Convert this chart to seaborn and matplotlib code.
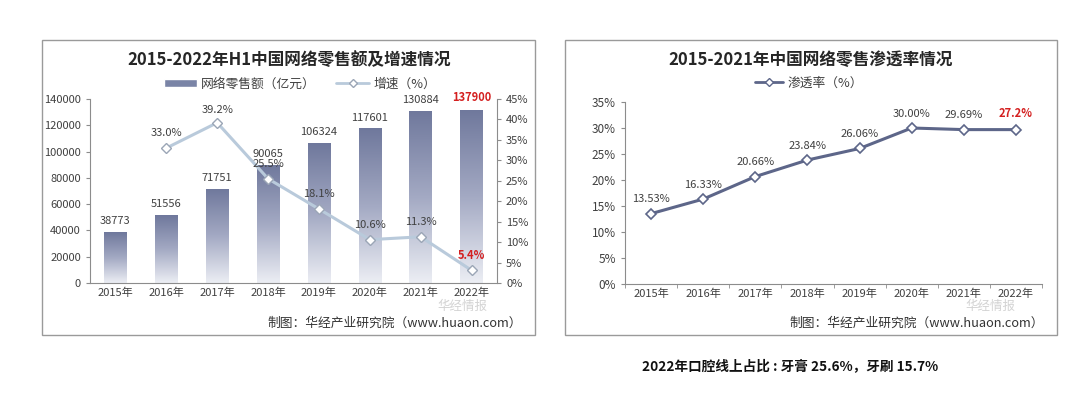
import numpy as np
import pandas as pd
import matplotlib
matplotlib.use('Agg')
import matplotlib.pyplot as plt
from matplotlib.patches import Rectangle
from matplotlib.lines import Line2D
from matplotlib.colors import LinearSegmentedColormap
import seaborn as sns

# data
years = ['2015年', '2016年', '2017年', '2018年', '2019年', '2020年', '2021年', '2022年']
sales_height = [38773, 51556, 71751, 90065, 106324, 117601, 130884, 132000]
sales_label = ['38773', '51556', '71751', '90065', '106324', '117601', '130884', '137900']
growth_years = ['2016年', '2017年', '2018年', '2019年', '2020年', '2021年', '2022年']
growth_plot = [33.0, 39.2, 25.5, 18.1, 10.6, 11.3, 3.1]
growth_label = ['33.0%', '39.2%', '25.5%', '18.1%', '10.6%', '11.3%', '5.4%']
pen_plot = [13.53, 16.33, 20.66, 23.84, 26.06, 30.00, 29.69, 29.69]
pen_label = ['13.53%', '16.33%', '20.66%', '23.84%', '26.06%', '30.00%', '29.69%', '27.2%']

sns.set_style('white')
plt.rcParams['font.family'] = ['Noto Sans CJK SC', 'DejaVu Sans']
plt.rcParams['axes.unicode_minus'] = False

W, H = 1080, 397
fig = plt.figure(figsize=(10.8, 3.97), dpi=100)

def fx(px):
    return px / W

def fy(py):
    return 1 - py / H

# panel frames
for x0, x1 in [(42, 535), (565, 1057)]:
    fig.patches.append(Rectangle((fx(x0), fy(335)), fx(x1 - x0), (335 - 40) / H,
                                 transform=fig.transFigure, fill=False,
                                 edgecolor='#9a9a9a', lw=1.0))

txt_col = '#404040'
grid_col = '#8c8c8c'

# ---------------- left chart ----------------
ax1 = fig.add_axes([fx(90), fy(283), fx(497 - 90), (283 - 99) / H])
df1 = pd.DataFrame({'year': years, 'sales': sales_height})
sns.barplot(data=df1, x='year', y='sales', ax=ax1, color='#6f789c', width=0.44)
ax1.set_ylim(0, 140000)
ax1.set_xlim(-0.5, 7.5)
ax1.set_yticks(np.arange(0, 140001, 20000))
ax1.set_xlabel('')
ax1.set_ylabel('')

cmap = LinearSegmentedColormap.from_list('g', ['#eceef4', '#a3a9c3', '#6f789c'])
grad = np.linspace(0, 1, 256).reshape(-1, 1)
for p in ax1.patches:
    x, y = p.get_x(), p.get_y()
    w, h = p.get_width(), p.get_height()
    im = ax1.imshow(grad, cmap=cmap, origin='lower', aspect='auto',
                    extent=[x, x + w, y, y + h], zorder=2)
    im.set_clip_path(p)
    p.set_facecolor('none')
    p.set_edgecolor('none')
ax1.set_xlim(-0.5, 7.5)
ax1.set_ylim(0, 140000)

for i, (v, lab) in enumerate(zip(sales_height, sales_label)):
    last = i == len(sales_label) - 1
    ax1.text(i, v + 4500, lab, ha='center', va='bottom', fontsize=8,
             color='#d42020' if last else txt_col,
             fontweight='bold' if last else 'normal', zorder=5)

for s in ['top', 'right']:
    ax1.spines[s].set_visible(False)
ax1.spines['left'].set_color(grid_col)
ax1.spines['bottom'].set_color(grid_col)
ax1.tick_params(axis='both', labelsize=8, colors=txt_col, length=3,
                direction='out', left=True, bottom=True, color=grid_col)
ax1.set_xticks(np.arange(-0.5, 8, 1), minor=True)
ax1.tick_params(axis='x', which='major', length=0)
ax1.tick_params(axis='x', which='minor', length=3, color=grid_col)

ax2 = ax1.twinx()
gx = [years.index(y) for y in growth_years]
sns.lineplot(x=gx, y=growth_plot, ax=ax2, color='#b9cadb', lw=2.2,
             marker='D', markersize=5, markerfacecolor='white',
             markeredgecolor='#9ba6b6', markeredgewidth=1, zorder=4)
ax2.set_ylim(0, 45)
ax2.set_xlim(-0.5, 7.5)
ax2.set_yticks(np.arange(0, 46, 5))
ax2.set_yticklabels([f'{t}%' for t in range(0, 46, 5)])
for s in ['top', 'left', 'bottom']:
    ax2.spines[s].set_visible(False)
ax2.spines['right'].set_color(grid_col)
ax2.tick_params(axis='y', labelsize=8, colors=txt_col, length=3, right=True,
                direction='out', color=grid_col)
for x, v, lab in zip(gx, growth_plot, growth_label):
    last = lab == growth_label[-1]
    off = 2.4 if x != 2 else 2.0
    yy = v + off if not last else 5.2
    ax2.text(x, yy, lab, ha='center', va='bottom', fontsize=8,
             color='#d42020' if last else txt_col,
             fontweight='bold' if last else 'normal', zorder=6)

fig.text(fx(289), fy(60), '2015-2022年H1中国网络零售额及增速情况', ha='center',
         va='center', fontsize=12, fontweight='bold', color='#262626')
h1 = [Rectangle((0, 0), 1, 1, facecolor='#7a84a6'),
      Line2D([], [], color='#b9cadb', lw=2, marker='D', markersize=4,
             markerfacecolor='white', markeredgecolor='#9ba6b6')]
fig.legend(h1, ['网络零售额（亿元）', '增速（%）'], loc='center',
           bbox_to_anchor=(fx(300), fy(84)), ncol=2, frameon=False,
           fontsize=9.2, handlelength=2.6, handleheight=0.5, columnspacing=1.6,
           handletextpad=0.3, labelcolor=txt_col)
fig.text(fx(522), fy(323), '制图：华经产业研究院（www.huaon.com）', ha='right',
         va='center', fontsize=9.2, color='#333333')
fig.text(fx(462), fy(306), '华经情报', ha='center', va='center', fontsize=9,
         color='#c8c8c8', alpha=0.8)

# ---------------- right chart ----------------
ax3 = fig.add_axes([fx(625), fy(284), fx(1042 - 625), (284 - 102) / H])
px = np.arange(len(years))
sns.lineplot(x=px, y=pen_plot, ax=ax3, color='#5d6689', lw=2.2,
             marker='D', markersize=5.5, markerfacecolor='white',
             markeredgecolor='#5d6689', markeredgewidth=1.2, zorder=4)
ax3.set_xlim(-0.5, 7.5)
ax3.set_ylim(0, 35)
ax3.set_yticks(np.arange(0, 36, 5))
ax3.set_yticklabels([f'{t}%' for t in range(0, 36, 5)])
ax3.set_xticks(px)
ax3.set_xticklabels(years)
ax3.set_xticks(np.arange(-0.5, 8, 1), minor=True)
for s in ['top', 'right']:
    ax3.spines[s].set_visible(False)
ax3.spines['left'].set_color(grid_col)
ax3.spines['bottom'].set_color(grid_col)
ax3.tick_params(axis='y', labelsize=8.5, colors=txt_col, length=3, left=True,
                direction='out', color=grid_col)
ax3.tick_params(axis='x', which='major', labelsize=8, colors=txt_col, length=0)
ax3.tick_params(axis='x', which='minor', length=3, color=grid_col, bottom=True)
for i, (v, lab) in enumerate(zip(pen_plot, pen_label)):
    last = i == len(pen_label) - 1
    ax3.text(i, v + 1.8, lab, ha='center', va='bottom', fontsize=8,
             color='#d42020' if last else txt_col,
             fontweight='bold' if last else 'normal')

fig.text(fx(811), fy(60), '2015-2021年中国网络零售渗透率情况', ha='center',
         va='center', fontsize=12, fontweight='bold', color='#262626')
h2 = [Line2D([], [], color='#5d6689', lw=2, marker='D', markersize=4,
             markerfacecolor='white', markeredgecolor='#5d6689')]
fig.legend(h2, ['渗透率（%）'], loc='center', bbox_to_anchor=(fx(809), fy(83)),
           frameon=False, fontsize=9.2, handlelength=2.2, handletextpad=0.3,
           labelcolor=txt_col)
fig.text(fx(1044), fy(323), '制图：华经产业研究院（www.huaon.com）', ha='right',
         va='center', fontsize=9.2, color='#333333')
fig.text(fx(990), fy(306), '华经情报', ha='center', va='center', fontsize=9,
         color='#c8c8c8', alpha=0.8)

fig.text(fx(790), fy(366), '2022年口腔线上占比 : 牙膏 25.6%，牙刷 15.7%',
         ha='center', va='center', fontsize=9.8, fontweight='bold', color='#111111')

fig.savefig('out.png', dpi=100, facecolor='white')
